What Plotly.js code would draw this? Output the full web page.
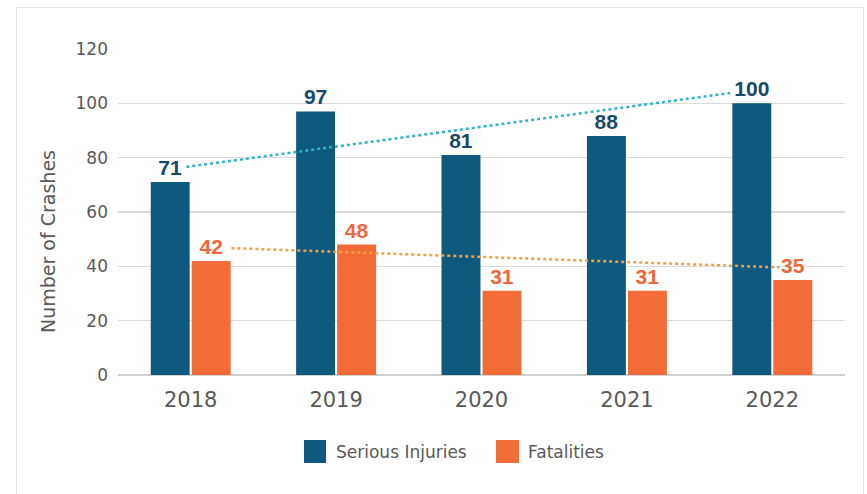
<!DOCTYPE html>
<html>
<head>
<meta charset="utf-8">
<script src="https://cdn.plot.ly/plotly-3.0.1.min.js"></script>
<style>
html,body{margin:0;padding:0;background:#fff;}
#frame{position:absolute;left:16px;top:7px;width:848px;height:500px;border:1.5px solid #e3e3e3;border-bottom:none;box-sizing:border-box;}
#chart{position:absolute;left:0;top:0;width:867px;height:494px;}
</style>
</head>
<body>
<div id="frame"></div>
<div id="chart"></div>
<script>
const years = ['2018', '2019', '2020', '2021', '2022'];
const seriousInjuries = [71, 97, 81, 88, 100];
const fatalities = [42, 48, 31, 31, 35];
// trend lines (category-index units)
const trendSeriousX = [-0.03, 3.71];
const trendSeriousY = [76.6, 103.8];
const trendFatalX = [0.28, 4.05];
const trendFatalY = [46.7, 39.6];
const yTicks = [0, 20, 40, 60, 80, 100, 120];

const blue = '#0e5a7e', orange = '#f36c38';
const blueLbl = '#17496a', orangeLbl = '#f0663a';

const lblFont = c => ({family:'Liberation Sans, Arial, sans-serif', size:21, color:c, weight:'bold'});

const traces = [
  {type:'bar', x:years, y:seriousInjuries, name:'Serious Injuries', marker:{color:blue},
   text:seriousInjuries.map(String), textposition:'outside', cliponaxis:false, constraintext:'none',
   textfont:lblFont(blueLbl), showlegend:false, hoverinfo:'x+y'},
  {type:'bar', x:years, y:fatalities, name:'Fatalities', marker:{color:orange},
   text:fatalities.map(String), textposition:'outside', cliponaxis:false, constraintext:'none',
   textfont:lblFont(orangeLbl), showlegend:false, hoverinfo:'x+y'},
  {type:'scatter', mode:'lines', x:trendSeriousX, y:trendSeriousY, xaxis:'x2', yaxis:'y',
   line:{color:'#2fb4c4', width:2.5, dash:'dot'}, showlegend:false, hoverinfo:'skip'},
  {type:'scatter', mode:'lines', x:trendFatalX, y:trendFatalY, xaxis:'x2', yaxis:'y',
   line:{color:'#f2a044', width:2.5, dash:'dot'}, showlegend:false, hoverinfo:'skip'}
];

const L = 118, R = 845, T = 49, B = 375;
const W = R - L, H = B - T;
const px = v => (v - L) / W;
const py = v => (B - v) / H;
const txtFont = {family:'DejaVu Sans, sans-serif', size:17, color:'#595959'};

const layout = {
  width:867, height:494,
  margin:{l:L, r:867-R, t:T, b:494-B, pad:0},
  paper_bgcolor:'rgba(0,0,0,0)', plot_bgcolor:'rgba(0,0,0,0)',
  barmode:'group', bargap:0.436, bargroupgap:0.05,
  font:{family:'DejaVu Sans, sans-serif', color:'#595959'},
  xaxis:{type:'category', range:[-0.5,4.5], showgrid:false, zeroline:false, showline:false,
         ticks:'', tickfont:{family:'DejaVu Sans, sans-serif', size:21, color:'#595959'},
         ticklabelstandoff:10, fixedrange:true},
  xaxis2:{overlaying:'x', range:[-0.5,4.5], visible:false, fixedrange:true},
  yaxis:{range:[0,120], tickvals:yTicks, ticktext:yTicks.map(String), showgrid:true,
         gridcolor:'#dadada', gridwidth:1.5, zeroline:true, zerolinecolor:'#d0d0d0', zerolinewidth:1.5,
         showline:false, ticks:'', ticklabelstandoff:9,
         tickfont:txtFont, automargin:false, fixedrange:true},
  shapes:[
    {type:'rect', xref:'paper', yref:'paper', x0:px(304), x1:px(326), y0:py(463), y1:py(440), fillcolor:blue, line:{width:0}},
    {type:'rect', xref:'paper', yref:'paper', x0:px(496), x1:px(519), y0:py(463), y1:py(440), fillcolor:orange, line:{width:0}}
  ],
  annotations:[
    {xref:'paper', yref:'paper', x:px(48), y:py(242), xanchor:'center', yanchor:'middle', textangle:-90, showarrow:false,
     text:'Number of Crashes', font:{family:'DejaVu Sans, sans-serif', size:19, color:'#595959'}},
    {xref:'paper', yref:'paper', x:px(334), y:py(452), xanchor:'left', yanchor:'middle', showarrow:false,
     text:'Serious Injuries', font:txtFont},
    {xref:'paper', yref:'paper', x:px(526), y:py(452), xanchor:'left', yanchor:'middle', showarrow:false,
     text:'Fatalities', font:txtFont}
  ],
  showlegend:false
};

Plotly.newPlot('chart', traces, layout, {displayModeBar:false, staticPlot:true});
</script>
</body>
</html>
